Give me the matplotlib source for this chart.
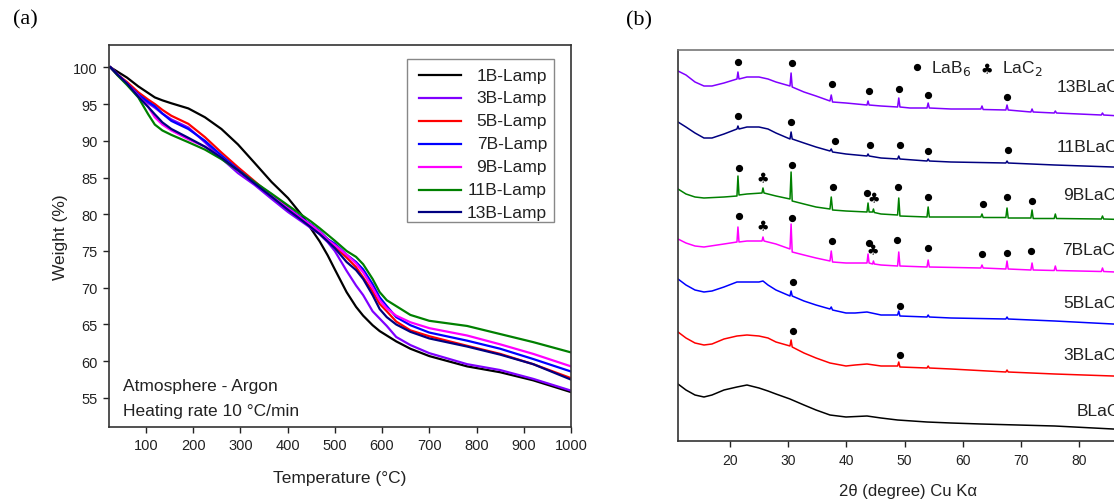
import matplotlib
matplotlib.use("Agg")
import matplotlib.pyplot as plt
from matplotlib.patches import Rectangle

plt.rcParams['font.family'] = ['Liberation Sans', 'DejaVu Sans']

# ---------------- Panel (a): TGA data ----------------
temperature = [25, 40, 60, 84, 105, 119, 135, 154, 190, 225, 260, 295, 330, 366, 401,
               430, 450, 468, 485, 500, 525, 545, 560, 580, 595, 610, 630, 660, 700,
               780, 850, 920, 1000]
w_1B = [100.0, 99.4, 98.6, 97.4, 96.5, 95.9, 95.5, 95.1, 94.4, 93.2, 91.6, 89.5, 87.0, 84.4, 82.2,
        79.9, 78.0, 76.3, 74.4, 72.5, 69.4, 67.4, 66.2, 64.9, 64.1, 63.5, 62.7, 61.7, 60.7,
        59.3, 58.5, 57.4, 55.8]
w_3B = [100.0, 99.0, 97.8, 96.1, 95.1, 94.5, 93.7, 92.9, 91.8, 89.8, 87.6, 85.6, 84.0, 82.1, 80.3,
        79.0, 78.1, 77.3, 76.2, 75.0, 72.3, 70.3, 69.0, 66.8, 65.8, 64.8, 63.3, 62.2, 61.1,
        59.6, 58.8, 57.6, 56.0]
w_5B = [100.0, 99.0, 98.0, 96.6, 95.6, 95.0, 94.2, 93.4, 92.3, 90.5, 88.4, 86.4, 84.5, 82.5, 80.7,
        79.3, 78.3, 77.5, 76.6, 75.6, 74.1, 72.8, 71.4, 69.5, 67.8, 66.8, 65.4, 64.2, 63.4,
        62.1, 61.0, 59.6, 57.7]
w_7B = [100.0, 99.0, 97.8, 96.3, 95.3, 94.7, 93.7, 92.7, 91.6, 90.0, 88.0, 86.1, 84.3, 82.7, 80.9,
        79.5, 78.6, 77.7, 76.6, 76.0, 74.5, 73.5, 72.5, 70.5, 68.7, 67.5, 66.0, 64.9, 63.9,
        62.8, 61.7, 60.3, 58.6]
w_9B = [100.0, 99.0, 97.8, 96.1, 94.6, 93.2, 92.2, 91.4, 90.2, 89.2, 87.7, 86.0, 84.3, 82.6, 80.8,
        79.4, 78.5, 77.6, 76.5, 75.8, 74.5, 73.3, 72.1, 70.0, 68.3, 67.2, 66.2, 65.3, 64.5,
        63.5, 62.3, 61.0, 59.3]
w_11B = [100.0, 98.9, 97.6, 95.9, 93.6, 92.2, 91.4, 90.8, 89.8, 88.8, 87.5, 86.0, 84.4, 82.8, 81.2,
         79.9, 79.0, 78.1, 77.2, 76.4, 75.0, 74.2, 73.2, 71.2, 69.4, 68.3, 67.5, 66.3, 65.5,
         64.8, 63.7, 62.6, 61.2]
w_13B = [100.0, 99.0, 97.8, 96.0, 94.6, 93.6, 92.5, 91.6, 90.4, 89.2, 87.7, 86.0, 84.2, 82.4, 80.6,
         79.2, 78.2, 77.3, 76.3, 75.4, 73.5, 72.4, 71.2, 69.0, 67.1, 66.0, 65.0, 64.0, 63.1,
         62.0, 60.9, 59.6, 57.5]
tga_labels = ['1B-Lamp', '3B-Lamp', '5B-Lamp', '7B-Lamp', '9B-Lamp', '11B-Lamp', '13B-Lamp']
tga_colors = ['#000000', '#8000ff', '#ff0000', '#0000ff', '#ff00ff', '#008000', '#000080']
tga_series = [w_1B, w_3B, w_5B, w_7B, w_9B, w_11B, w_13B]
tga_xticks = [100, 200, 300, 400, 500, 600, 700, 800, 900, 1000]
tga_yticks = [55, 60, 65, 70, 75, 80, 85, 90, 95, 100]

# ---------------- Panel (b): XRD data (arbitrary, offset intensities) ----------------
tt_13B = [11.07, 12.44, 13.99, 15.53, 16.91, 18.97, 21.20, 21.37, 21.55, 22.92, 24.98, 26.53, 27.90,
          30.31, 30.50, 30.69, 32.71, 34.78, 37.18, 37.40, 37.62, 39.93, 43.54, 43.72, 43.90, 45.95,
          48.80, 49.00, 49.20, 50.93, 53.85, 54.05, 54.25, 57.97, 63.1, 63.3, 63.5, 67.4, 67.6, 67.8,
          71.7, 71.9, 72.1, 75.7, 75.9, 76.1, 83.8, 84.0, 84.2, 90.0]
i_13B = [370, 366, 359, 355, 355, 358, 362, 369, 362, 364, 364, 362, 359,
         355, 368, 354, 349, 345, 340, 346, 339, 338, 336, 340, 336, 335,
         334, 343, 334, 333, 333, 338, 333, 332, 332, 335, 331.5, 331, 336, 331,
         329, 332, 329, 328, 330, 328, 326, 328, 326, 324]
tt_11B = [11.07, 12.44, 13.99, 15.53, 16.91, 18.97, 21.20, 21.37, 21.55, 22.92, 24.98, 26.53, 27.90,
          30.31, 30.50, 30.69, 32.71, 34.78, 37.18, 37.40, 37.62, 39.93, 43.54, 43.72, 43.90, 45.95,
          48.80, 49.00, 49.20, 53.85, 54.05, 54.25, 57.97, 67.4, 67.6, 67.8, 75.8, 85.8, 90.0]
i_11B = [319, 314, 308, 303, 303, 307, 312, 315, 312, 314, 314, 312, 308,
         302, 309, 302, 298, 294, 290, 292, 289, 287, 285, 287, 285, 283,
         282, 285, 282, 280, 282, 280, 279, 278, 280, 278, 276, 274, 273]
tt_9B = [11.07, 12.44, 13.99, 15.53, 18.97, 21.20, 21.37, 21.55, 22.92, 25.50, 25.67, 25.85, 27.90,
         30.31, 30.50, 30.69, 32.71, 34.78, 37.18, 37.40, 37.62, 39.93, 43.54, 43.72, 43.90, 44.5,
         44.65, 44.8, 45.95, 48.80, 49.00, 49.20, 53.85, 54.05, 54.25, 57.97, 63.1, 63.3, 63.5,
         67.4, 67.6, 67.8, 71.7, 71.9, 72.1, 75.7, 75.9, 76.1, 83.8, 84.0, 84.2, 90.0]
i_9B = [252, 247, 244, 243, 244, 245, 265, 246, 247, 248, 253, 248, 245,
        242, 269, 240, 237, 234, 232, 244, 231, 230, 229, 238, 229, 229,
        232, 228.5, 227, 226, 243, 225, 224, 234, 224, 224, 224, 227, 223.5,
        223.5, 233, 223, 223, 231, 222.5, 222.5, 227, 222.5, 222, 225, 222, 221]
tt_7B = [11.07, 12.44, 13.99, 15.53, 18.97, 21.20, 21.37, 21.55, 22.92, 25.50, 25.67, 25.85, 27.90,
         30.31, 30.50, 30.69, 32.71, 34.78, 37.18, 37.40, 37.62, 39.93, 43.54, 43.72, 43.90, 44.5,
         44.65, 44.8, 45.95, 48.80, 49.00, 49.20, 53.85, 54.05, 54.25, 63.1, 63.3, 63.5,
         67.4, 67.6, 67.8, 71.7, 71.9, 72.1, 75.7, 75.9, 76.1, 83.8, 84.0, 84.2, 90.0]
i_7B = [202, 198, 195, 194, 197, 199, 214, 199, 200, 200, 204, 200, 197,
        192, 217, 189, 186, 183, 180, 190, 179, 178, 178, 187, 178, 177,
        180, 177, 176, 175, 189, 175, 174, 181, 174, 173, 176, 173,
        172, 180, 172, 171, 178, 171, 170.5, 175, 170.5, 169.5, 173, 169.5, 168]
tt_5B = [11.07, 12.44, 13.99, 15.53, 16.91, 18.97, 21.20, 22.92, 24.98, 25.67, 26.53, 27.90,
         30.31, 30.50, 30.69, 32.71, 34.78, 37.18, 37.40, 37.62, 39.93, 41.5, 43.54, 45.95,
         48.80, 49.00, 49.20, 53.85, 54.05, 54.25, 57.97, 67.4, 67.6, 67.8, 75.8, 85.8, 90.0]
i_5B = [162, 156, 151, 149, 150, 154, 159, 159, 159, 160, 156, 151,
        145, 150, 145, 140, 136, 132, 134, 131, 128, 128, 129, 126,
        126, 130, 125, 124, 126, 124, 123, 122, 124, 122, 120, 117, 116]
tt_3B = [11.07, 12.44, 13.99, 15.53, 16.91, 18.97, 21.20, 22.92, 24.98, 26.53, 27.90,
         30.31, 30.50, 30.69, 32.71, 34.78, 37.18, 39.93, 41.5, 43.54, 45.95,
         48.80, 49.00, 49.20, 53.85, 54.05, 54.25, 57.97, 67.4, 67.6, 67.8, 75.8, 85.8, 90.0]
i_3B = [109, 103, 98, 96, 97, 102, 105, 106, 105, 103, 99,
        95, 101, 94, 88, 83, 78, 75, 76, 77, 75,
        75, 79, 74, 73, 75, 73, 72, 69, 71, 69, 67, 65, 64]
tt_B = [11.07, 12.44, 13.99, 15.53, 16.91, 18.97, 21.20, 22.92, 24.98, 26.53, 27.90,
        30.31, 32.71, 34.78, 37.18, 39.93, 43.54, 45.95, 48.80, 53.85, 57.97, 63.1, 75.8, 85.8, 90.0]
i_B = [57, 51, 46, 44, 46, 51, 54, 56, 53, 50, 47,
       42, 36, 31, 26, 24, 25, 23, 21, 19, 18, 17, 15, 12, 11]

xrd_names = ['13BLaC', '11BLaC', '9BLaC', '7BLaC', '5BLaC', '3BLaC', 'BLaC']
xrd_colors = ['#8000ff', '#000080', '#008000', '#ff00ff', '#0000ff', '#ff0000', '#000000']
xrd_x = [tt_13B, tt_11B, tt_9B, tt_7B, tt_5B, tt_3B, tt_B]
xrd_y = [i_13B, i_11B, i_9B, i_7B, i_5B, i_3B, i_B]

# LaB6 peak markers (2theta, height) and LaC2 markers
lab6_x = [21.37, 30.65, 37.5, 43.9, 49.0, 54.0, 67.6,
          21.37, 30.5, 38.0, 44.05, 49.2, 54.0, 67.8,
          21.5, 30.65, 37.7, 43.54, 48.87, 54.0, 63.5, 67.6, 71.9,
          21.5, 30.65, 37.5, 43.9, 48.7, 54.0, 63.3, 67.6, 71.7,
          30.82, 49.2,
          30.82, 49.2]
lab6_y = [379, 378, 357, 350, 352, 346, 344,
          325, 319, 300, 296, 296, 290, 291,
          273, 276, 254, 248, 254, 244, 237, 244, 240,
          225, 223, 200, 198, 201, 193, 187, 188, 190,
          159, 135,
          110, 86]
lac2_x = [25.67, 44.74, 25.67, 44.57]
lac2_y = [263, 243, 215, 191]
xrd_xticks = [20, 30, 40, 50, 60, 70, 80, 90]

# ---------------- Figure ----------------
W, H = 1114, 502
fig = plt.figure(figsize=(W / 100, H / 100), dpi=100)

def frac_box(l, t, r, b):
    return [l / W, 1 - b / H, (r - l) / W, (b - t) / H]

spine_col = '#333333'

# Panel (a)
axa = fig.add_axes(frac_box(109, 46, 571, 428))
for w, c in zip(tga_series, tga_colors):
    axa.plot(temperature, w, color=c, lw=1.6)
axa.set_xlim(22, 1000)
axa.set_ylim(51.05, 103.03)
axa.set_xticks(tga_xticks)
axa.set_yticks(tga_yticks)
axa.tick_params(direction='out', length=4, width=1, labelsize=10.5, colors='#222222', pad=4)
for s in axa.spines.values():
    s.set_color(spine_col)
    s.set_linewidth(1.2)
axa.set_xlabel('Temperature (°C)', fontsize=12.5, color='#222222', labelpad=13)
axa.set_ylabel('Weight (%)', fontsize=12.5, color='#222222', labelpad=4)
axa.text(0.030, 0.108, 'Atmosphere - Argon', transform=axa.transAxes, fontsize=12.5,
         va='center', ha='left', color='#222222')
axa.text(0.030, 0.0445, 'Heating rate 10 °C/min', transform=axa.transAxes, fontsize=12.5,
         va='center', ha='left', color='#222222')

# manual legend with right-aligned labels
def ax_fx(px):
    return (px - 109) / (571 - 109)

def ax_fy(py):
    return (428 - py) / (428 - 46)

axa.add_patch(Rectangle((ax_fx(407), ax_fy(223)), ax_fx(554) - ax_fx(407), ax_fy(60) - ax_fy(223),
                        transform=axa.transAxes, fill=False, edgecolor='#888888', lw=1.0, zorder=5))
for i, (lab, c) in enumerate(zip(tga_labels, tga_colors)):
    yy = ax_fy(76 + i * 22.9)
    axa.plot([ax_fx(419), ax_fx(461)], [yy, yy], color=c, lw=1.6, transform=axa.transAxes,
             zorder=6)
    axa.text(ax_fx(547), yy, lab, transform=axa.transAxes, ha='right', va='center',
             fontsize=12.5, color='#222222', zorder=6)

fig.text(25 / W, 1 - 20 / H, '(a)', family='Liberation Serif', fontsize=16, ha='center', va='center')
fig.text(639 / W, 1 - 21 / H, '(b)', family='Liberation Serif', fontsize=16, ha='center', va='center')

# Panel (b)
right_px = 730 + 7 * 58.2
axb = fig.add_axes(frac_box(678, 51, right_px, 442))
for xs, ys, c in zip(xrd_x, xrd_y, xrd_colors):
    axb.plot(xs, ys, color=c, lw=1.1)
axb.plot(lab6_x, lab6_y, 'o', color='black', ms=4.2, ls='none')
for x, y in zip(lac2_x, lac2_y):
    axb.text(x, y, '♣', family='DejaVu Sans', fontsize=10, ha='center', va='center')
axb.set_xlim(11.07, 90)
axb.set_ylim(0, 391)
axb.set_yticks([])
axb.set_xticks(xrd_xticks)
axb.tick_params(axis='x', direction='out', length=4, width=1, labelsize=10, colors='#222222', pad=5)
for s in axb.spines.values():
    s.set_color(spine_col)
    s.set_linewidth(1.2)
axb.spines['top'].set_color('#777777')
axb.set_xlabel('2θ (degree) Cu Kα', fontsize=12, color='#222222', labelpad=11)

def bx(px):
    return (px - 678) / (right_px - 678)

def by(py):
    return (442 - py) / 391

label_pos = [(1057, 88), (1057, 147), (1063, 195), (1062, 251), (1063, 303), (1063, 355), (1077, 412)]
for name, (px, py) in zip(xrd_names, label_pos):
    axb.text(bx(px), by(py), name, transform=axb.transAxes, ha='left', va='center',
             fontsize=12.5, color='#222222', clip_on=False)

axb.plot([bx(917)], [by(68)], 'o', color='black', ms=4.2, transform=axb.transAxes)
axb.text(bx(931), by(68), 'LaB$_6$', transform=axb.transAxes, ha='left', va='center',
         fontsize=12.5, color='#222222')
axb.text(bx(987), by(70), '♣', family='DejaVu Sans', transform=axb.transAxes, ha='center',
         va='center', fontsize=10)
axb.text(bx(1002), by(68), 'LaC$_2$', transform=axb.transAxes, ha='left', va='center',
         fontsize=12.5, color='#222222')

fig.savefig('out.png', dpi=100)
